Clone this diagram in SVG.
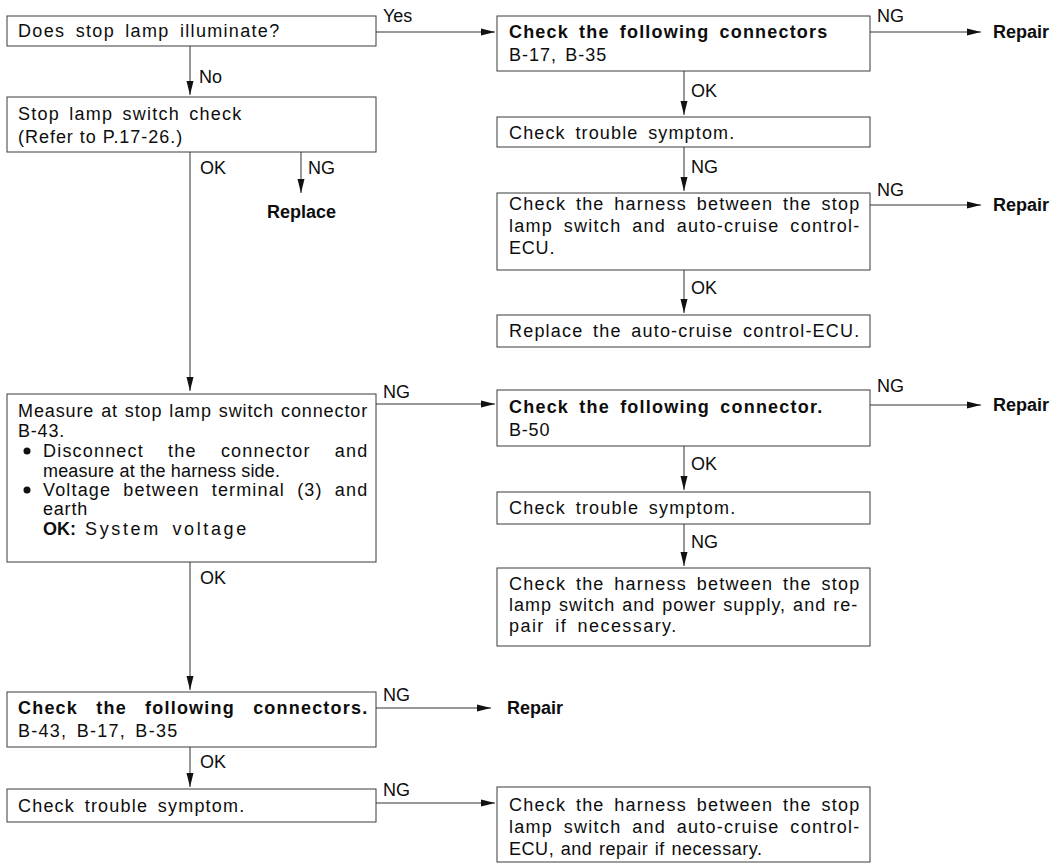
<svg xmlns="http://www.w3.org/2000/svg" width="1061" height="863" viewBox="0 0 1061 863">
<style>
.box{fill:#fff;stroke:#3a3a3a;stroke-width:1}
text{font-family:"Liberation Sans",Arial,sans-serif;font-size:18px;fill:#0d0d0d}
.t{letter-spacing:0.8px}
.b{font-weight:bold}
.ln{stroke:#333;stroke-width:1;fill:none}
.arr{marker-end:url(#ah)}
</style>
<defs>
<marker id="ah" viewBox="0 0 14 8" refX="14" refY="4" markerWidth="14" markerHeight="8" markerUnits="userSpaceOnUse" orient="auto">
<path d="M0,0.5 L14,4 L0,7.5 z" fill="#111"/>
</marker>
</defs>
<rect width="1061" height="863" fill="#fff"/>

<g id="connectors">
<path class="ln arr" d="M376,32 H495"/>
<path class="ln arr" d="M190,46 V95"/>
<path class="ln arr" d="M190,152 V391"/>
<path class="ln arr" d="M301,152 V193"/>
<path class="ln arr" d="M684,71 V115"/>
<path class="ln arr" d="M684,147 V191"/>
<path class="ln arr" d="M684,270 V313"/>
<path class="ln arr" d="M870,32 H981"/>
<path class="ln arr" d="M870,205 H981"/>
<path class="ln arr" d="M376,404 H495"/>
<path class="ln arr" d="M870,405 H981"/>
<path class="ln arr" d="M684,446 V490"/>
<path class="ln arr" d="M684,524 V566"/>
<path class="ln arr" d="M190,562 V690"/>
<path class="ln arr" d="M376,708 H491"/>
<path class="ln arr" d="M190,747 V787"/>
<path class="ln arr" d="M376,803 H495"/>
<text x="383" y="22">Yes</text>
<text x="199" y="83">No</text>
<text x="200" y="174">OK</text>
<text x="308" y="174">NG</text>
<text x="877" y="22">NG</text>
<text x="691" y="97">OK</text>
<text x="691" y="173">NG</text>
<text x="877" y="196">NG</text>
<text x="691" y="294">OK</text>
<text x="383" y="398">NG</text>
<text x="877" y="392">NG</text>
<text x="691" y="470">OK</text>
<text x="691" y="548">NG</text>
<text x="200" y="584">OK</text>
<text x="383" y="701">NG</text>
<text x="200" y="768">OK</text>
<text x="383" y="796">NG</text>
</g>

<g id="n-illuminate">
<rect class="box" x="7" y="16" width="369" height="30"/>
<text class="t" x="18" y="37" word-spacing="4" textLength="262" lengthAdjust="spacing">Does stop lamp illuminate?</text>
</g>

<g id="n-switch-check">
<rect class="box" x="7" y="97" width="369" height="55"/>
<text class="t" x="18" y="120" word-spacing="3" textLength="224" lengthAdjust="spacing">Stop lamp switch check</text>
<text class="t" x="18" y="143" textLength="165" lengthAdjust="spacing">(Refer to P.17-26.)</text>
</g>

<g id="n-replace">
<text class="b" x="267" y="218">Replace</text>
</g>

<g id="n-conn-b17">
<rect class="box" x="497" y="16" width="373" height="55"/>
<text class="b t" x="509" y="38" word-spacing="4" textLength="319" lengthAdjust="spacing">Check the following connectors</text>
<text class="t" x="509" y="61" word-spacing="2" textLength="98" lengthAdjust="spacing">B-17, B-35</text>
</g>

<g id="n-repair1"><text class="b" x="993" y="38">Repair</text></g>

<g id="n-symptom1">
<rect class="box" x="497" y="117" width="373" height="30"/>
<text class="t" x="509" y="139" word-spacing="3.5" textLength="226" lengthAdjust="spacing">Check trouble symptom.</text>
</g>

<g id="n-harness-ecu">
<rect class="box" x="497" y="193" width="373" height="77"/>
<text class="t" x="509" y="210" word-spacing="3.5" textLength="351" lengthAdjust="spacing">Check the harness between the stop</text>
<text class="t" x="509" y="232" word-spacing="4.5" textLength="351" lengthAdjust="spacing">lamp switch and auto-cruise control-</text>
<text class="t" x="509" y="254">ECU.</text>
</g>

<g id="n-repair2"><text class="b" x="993" y="211">Repair</text></g>

<g id="n-replace-ecu">
<rect class="box" x="497" y="315" width="373" height="32"/>
<text class="t" x="509" y="337" word-spacing="3.5" textLength="351" lengthAdjust="spacing">Replace the auto-cruise control-ECU.</text>
</g>

<g id="n-measure">
<rect class="box" x="7" y="394" width="369" height="168"/>
<text class="t" x="18" y="417" word-spacing="1" textLength="350" lengthAdjust="spacing">Measure at stop lamp switch connector</text>
<text class="t" x="18" y="437">B-43.</text>
<circle cx="27" cy="451" r="3.5" fill="#111"/>
<text class="t" x="43" y="457" word-spacing="18" textLength="325" lengthAdjust="spacing">Disconnect the connector and</text>
<text x="43" y="477" textLength="237" lengthAdjust="spacing">measure at the harness side.</text>
<circle cx="27" cy="490" r="3.5" fill="#111"/>
<text class="t" x="43" y="496" word-spacing="6" textLength="325" lengthAdjust="spacing">Voltage between terminal (3) and</text>
<text class="t" x="43" y="515">earth</text>
<text class="b" x="43" y="535">OK:</text>
<text class="t" x="85" y="535" word-spacing="4" textLength="162" lengthAdjust="spacing">System voltage</text>
</g>

<g id="n-conn-b50">
<rect class="box" x="497" y="390" width="373" height="56"/>
<text class="b t" x="509" y="413" word-spacing="4" textLength="314" lengthAdjust="spacing">Check the following connector.</text>
<text class="t" x="509" y="436">B-50</text>
</g>

<g id="n-repair3"><text class="b" x="993" y="411">Repair</text></g>

<g id="n-symptom2">
<rect class="box" x="497" y="492" width="373" height="32"/>
<text class="t" x="509" y="514" word-spacing="3.5" textLength="227" lengthAdjust="spacing">Check trouble symptom.</text>
</g>

<g id="n-harness-power">
<rect class="box" x="497" y="568" width="373" height="78"/>
<text class="t" x="509" y="590" word-spacing="3.5" textLength="351" lengthAdjust="spacing">Check the harness between the stop</text>
<text class="t" x="509" y="611" word-spacing="1" textLength="349" lengthAdjust="spacing">lamp switch and power supply, and re-</text>
<text class="t" x="509" y="632" word-spacing="4" textLength="168" lengthAdjust="spacing">pair if necessary.</text>
</g>

<g id="n-conn-b43">
<rect class="box" x="7" y="692" width="369" height="55"/>
<text class="b t" x="18" y="714" word-spacing="12" textLength="350" lengthAdjust="spacing">Check the following connectors.</text>
<text class="t" x="18" y="737" word-spacing="3" textLength="160" lengthAdjust="spacing">B-43, B-17, B-35</text>
</g>

<g id="n-repair4"><text class="b" x="507" y="714">Repair</text></g>

<g id="n-symptom3">
<rect class="box" x="7" y="789" width="369" height="33"/>
<text class="t" x="18" y="812" word-spacing="3.5" textLength="227" lengthAdjust="spacing">Check trouble symptom.</text>
</g>

<g id="n-harness-ecu2">
<rect class="box" x="497" y="787" width="373" height="75"/>
<text class="t" x="509" y="811" word-spacing="3.5" textLength="351" lengthAdjust="spacing">Check the harness between the stop</text>
<text class="t" x="509" y="833" word-spacing="4.5" textLength="351" lengthAdjust="spacing">lamp switch and auto-cruise control-</text>
<text x="509" y="855" word-spacing="1" textLength="253" lengthAdjust="spacing">ECU, and repair if necessary.</text>
</g>
</svg>
